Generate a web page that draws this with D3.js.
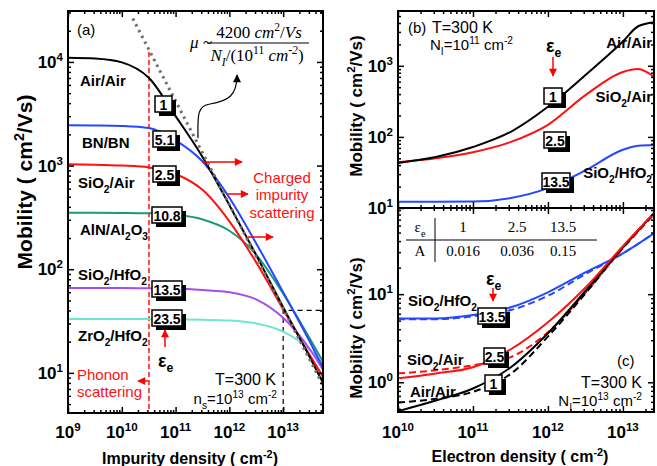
<!DOCTYPE html>
<html>
<head>
<meta charset="utf-8">
<script src="https://cdn.jsdelivr.net/npm/d3@7"></script>
<style>
  body { margin: 0; background: #fff; }
  svg text { font-family: "Liberation Sans", Arial, sans-serif; }
  .serif { font-family: "Liberation Serif", "Times New Roman", serif; }
</style>
</head>
<body>
<svg id="chart" width="657" height="466"></svg>
<script>
// ---- panel (a): mobility vs impurity density, n_s = 1e13 cm^-2
var impurityDensity = [1e9, 3.2e9, 1e10, 3.2e10, 1e11, 3.2e11, 1e12, 3.2e12, 1e13, 3.2e13, 5.5e13];
var muAirAir   = [11000, 10800, 9900, 7000, 3000, 1200, 415, 135, 43, 13.8, 8.0];
var muBNBN     = [2450, 2440, 2410, 2300, 1750, 1090, 490, 175, 60, 19.5, 11.2];
var muSiO2Air  = [1030, 1020, 1000, 960, 830, 580, 290, 115, 41, 14.5, 9.2];
var muAlNAl2O3 = [350, 350, 349, 346, 335, 302, 235, 137, 58, 21, 12.8];
var muSiO2HfO2 = [66, 66, 66, 65.5, 65, 63, 60, 51, 34, 16.6, 10.7];
var muZrO2HfO2 = [33, 33, 33, 33, 32.8, 32.5, 32, 30, 25, 16.5, 12.0];
var coulombDensity = [1.6e10, 5.5e13];
var coulombMu      = [26250, 7.6];
var epsA = ["1", "5.1", "2.5", "10.8", "13.5", "23.5"];

// ---- panel (b): mobility vs electron density, N_I = 1e11 cm^-2
var electronDensityB = [1e10, 3.2e10, 1e11, 3.2e11, 1e12, 3.2e12, 1e13, 1.6e13, 2.6e13];
var muB_AirAir   = [43, 52, 72, 118, 265, 750, 2200, 3600, 4100];
var muB_SiO2Air  = [44, 50, 61, 85, 148, 390, 820, 900, 700];
var muB_SiO2HfO2 = [12.2, 12.2, 12.3, 13.8, 19, 34, 66, 75, 77];

// ---- panel (c): mobility vs electron density, N_I = 1e13 cm^-2 (solid) and fit (dashed)
var electronDensityC = [1e10, 3.2e10, 1e11, 3.2e11, 1e12, 3.2e12, 1e13, 2.6e13];
var muC_AirAir      = [0.47, 0.62, 0.85, 1.48, 3.6, 11, 34, 83];
var muC_AirAirFit   = [0.59, 0.65, 0.78, 1.25, 3.3, 10.3, 34, 83];
var muC_SiO2Air     = [1.11, 1.26, 1.48, 2.37, 4.8, 12, 35, 83];
var muC_SiO2AirFit  = [1.26, 1.37, 1.56, 1.93, 3.7, 10.5, 33, 80];
var muC_SiO2HfO2    = [5.3, 5.3, 5.8, 7.1, 10.5, 17.8, 29, 49];
var muC_SiO2HfO2Fit = [5.2, 5.2, 5.6, 6.6, 9.6, 17, 29, 49];
var tableEps = ["1", "2.5", "13.5"];
var tableA   = ["0.016", "0.036", "0.15"];

var svg = d3.select('#chart');
var defs = svg.append('defs');

['red', 'black'].forEach(function(c) {
  defs.append('marker').attr('id', 'arr-' + c)
    .attr('viewBox', '0 0 10 10').attr('refX', 9).attr('refY', 5)
    .attr('markerWidth', 9).attr('markerHeight', 8).attr('markerUnits', 'userSpaceOnUse')
    .attr('orient', 'auto')
    .append('path').attr('d', 'M0,0 L10,5 L0,10 Z').attr('fill', c);
});

var xA = d3.scaleLog().domain([1e9, 5.5e13]).range([68, 323]);
var yA = d3.scaleLog().domain([4.1, 3.1e4]).range([413, 11]);
var xB = d3.scaleLog().domain([1e10, 2.6e13]).range([398, 654]);
var yB = d3.scaleLog().domain([10, 5900]).range([208, 11]);
var yC = d3.scaleLog().domain([0.46, 95]).range([412, 208]);

function isPow(v) { var l = Math.log10(v); return Math.abs(l - Math.round(l)) < 1e-6; }

function clipFor(id, x, y) {
  defs.append('clipPath').attr('id', id).append('rect')
    .attr('x', x.range()[0]).attr('y', y.range()[1])
    .attr('width', x.range()[1] - x.range()[0]).attr('height', y.range()[0] - y.range()[1]);
  return svg.append('g').attr('clip-path', 'url(#' + id + ')');
}

function frame(x, y) {
  var x0 = x.range()[0], x1 = x.range()[1], yb = y.range()[0], yt = y.range()[1];
  var xt = x.ticks(), ytk = y.ticks();
  var xMaj = xt.filter(isPow), xMin = xt.filter(function(v) { return !isPow(v); });
  var yMaj = ytk.filter(isPow), yMin = ytk.filter(function(v) { return !isPow(v); });
  var g = svg.append('g');
  [[d3.axisBottom, x, 'translate(0,' + yb + ')', xMaj, xMin],
   [d3.axisTop, x, 'translate(0,' + yt + ')', xMaj, xMin],
   [d3.axisLeft, y, 'translate(' + x0 + ',0)', yMaj, yMin],
   [d3.axisRight, y, 'translate(' + x1 + ',0)', yMaj, yMin]].forEach(function(s) {
    g.append('g').attr('transform', s[2]).call(s[0](s[1]).tickValues(s[3]).tickSize(-6).tickFormat(''));
    g.append('g').attr('transform', s[2]).call(s[0](s[1]).tickValues(s[4]).tickSize(-3).tickFormat(''));
  });
  g.selectAll('.domain').remove();
  g.selectAll('.tick line').attr('stroke', '#000').attr('stroke-width', 1.5);
  g.append('rect').attr('x', x0).attr('y', yt).attr('width', x1 - x0).attr('height', yb - yt)
    .attr('fill', 'none').attr('stroke', '#000').attr('stroke-width', 2);
  return { xMaj: xMaj, yMaj: yMaj };
}

// text with _sub and ^sup parts
function rich(x, y, parts, size, opts) {
  opts = opts || {};
  var t = svg.append('text').attr('x', x).attr('y', y)
    .style('font-size', size + 'px')
    .style('font-weight', opts.bold ? 'bold' : 'normal')
    .attr('fill', opts.color || '#000')
    .attr('text-anchor', opts.anchor || 'start');
  if (opts.cls) t.attr('class', opts.cls);
  var shift = 0;
  parts.forEach(function(p) {
    var txt = p, s = 0;
    if (p[0] === '_') { txt = p.slice(1); s = size * 0.3; }
    else if (p[0] === '^') { txt = p.slice(1); s = -size * 0.4; }
    var ts = t.append('tspan').attr('dy', s - shift).text(txt);
    if (s) ts.style('font-size', (size * 0.68) + 'px');
    if (opts.italic && !/^[0-9\/()~ ]+$/.test(txt)) ts.style('font-style', 'italic');
    shift = s;
  });
  return t;
}

function box(x, y, label, w) {
  var g = svg.append('g');
  g.append('rect').attr('x', x + 4).attr('y', y + 4).attr('width', w).attr('height', 16).attr('fill', '#000');
  g.append('rect').attr('x', x).attr('y', y).attr('width', w).attr('height', 16)
    .attr('fill', '#fff').attr('stroke', '#000').attr('stroke-width', 1.5);
  g.append('text').attr('x', x + w / 2).attr('y', y + 13.5).attr('text-anchor', 'middle')
    .style('font-size', '14px').style('font-weight', 'bold').text(label);
}

function arrow(x1, y1, x2, y2, c) {
  svg.append('line').attr('x1', x1).attr('y1', y1).attr('x2', x2).attr('y2', y2)
    .attr('stroke', c || 'red').attr('stroke-width', 1.5)
    .attr('marker-end', 'url(#arr-' + (c || 'red') + ')');
}

function series(g, x, y, xs, ys, color, dash) {
  var line = d3.line().x(function(d) { return x(d[0]); }).y(function(d) { return y(d[1]); })
    .curve(d3.curveMonotoneX);
  g.append('path').datum(d3.zip(xs, ys)).attr('d', line)
    .attr('fill', 'none').attr('stroke', color).attr('stroke-width', 2)
    .attr('stroke-dasharray', dash || null);
}

var BLACK = '#000', BLUE = '#2448ff', RED = '#ff1010', GREEN = '#1b9a72', PURPLE = '#a64cf0', CYAN = '#6fe6cf';

// ================= panel (a)
var gA = clipFor('clipA', xA, yA);
gA.append('line').attr('x1', xA(3.2e10)).attr('x2', xA(3.2e10)).attr('y1', yA(1.25e4)).attr('y2', yA(4.1))
  .attr('stroke', RED).attr('stroke-width', 1.5).attr('stroke-dasharray', '5,3');
gA.append('path').attr('d', 'M' + xA(1e13) + ',' + yA(4.1) + 'V' + yA(40) + 'H' + xA(5.5e13))
  .attr('fill', 'none').attr('stroke', '#000').attr('stroke-width', 1.2).attr('stroke-dasharray', '5,4');
series(gA, xA, yA, impurityDensity, muZrO2HfO2, CYAN);
series(gA, xA, yA, impurityDensity, muSiO2HfO2, PURPLE);
series(gA, xA, yA, impurityDensity, muAlNAl2O3, GREEN);
series(gA, xA, yA, impurityDensity, muSiO2Air, RED);
series(gA, xA, yA, impurityDensity, muBNBN, BLUE);
series(gA, xA, yA, impurityDensity, muAirAir, BLACK);
gA.append('path').datum(d3.zip(coulombDensity, coulombMu))
  .attr('d', d3.line().x(function(d) { return xA(d[0]); }).y(function(d) { return yA(d[1]); }))
  .attr('fill', 'none').attr('stroke', '#707070').attr('stroke-width', 3).attr('stroke-dasharray', '2.5,4');
var fa = frame(xA, yA);

fa.xMaj.forEach(function(v) {
  rich(xA(v), 438, ['10', '^' + Math.round(Math.log10(v))], 17, { bold: true, anchor: 'middle' });
});
fa.yMaj.forEach(function(v) {
  rich(63, yA(v) + 6, ['10', '^' + Math.round(Math.log10(v))], 17, { bold: true, anchor: 'end' });
});
rich(190, 464, ['Impurity density ( cm', '^-2', ')'], 16, { bold: true, anchor: 'middle' });
rich(0, 0, ['Mobility ( cm', '^2', '/Vs)'], 21, { bold: true, anchor: 'middle' })
  .attr('transform', 'translate(32,182) rotate(-90)');

rich(77, 35, ['(a)'], 15);
rich(80, 86, ['Air/Air'], 15, { bold: true });
rich(82, 148, ['BN/BN'], 15, { bold: true });
rich(78, 188, ['SiO', '_2', '/Air'], 15, { bold: true });
rich(80, 235, ['AlN/Al', '_2', 'O', '_3'], 15, { bold: true });
rich(78, 280, ['SiO', '_2', '/HfO', '_2'], 15, { bold: true });
rich(78, 341, ['ZrO', '_2', '/HfO', '_2'], 15, { bold: true });

[[155, 96, 17], [153, 131, 23], [153, 166, 23], [152, 207, 30], [152, 281, 30], [152, 310, 30]]
  .forEach(function(b, i) { box(b[0], b[1], epsA[i], b[2]); });

arrow(165, 347, 165, 330);
rich(158, 367, ['\u03b5', '_e'], 18, { bold: true });

rich(77, 380, ['Phonon'], 15, { color: RED });
rich(77, 397, ['scattering'], 15, { color: RED });
arrow(148, 381, 138, 381);
rich(282, 183, ['Charged'], 15, { color: RED, anchor: 'middle' });
rich(282, 200, ['impurity'], 15, { color: RED, anchor: 'middle' });
rich(282, 218, ['scattering'], 15, { color: RED, anchor: 'middle' });
arrow(202, 162, 242, 162);
arrow(227, 194, 248, 194);
arrow(248, 237, 273, 237);

rich(276, 385, ['T=300 K'], 16, { anchor: 'end' });
rich(277, 404, ['n', '_s', '=10', '^13', ' cm', '^-2'], 15, { anchor: 'end' });

// formula
rich(190, 48, ['\u03bc ~'], 17, { cls: 'serif', italic: true });
rich(259, 38, ['4200', ' cm', '^2', '/', 'Vs'], 17, { cls: 'serif', italic: true, anchor: 'middle' });
svg.append('line').attr('x1', 207).attr('x2', 309).attr('y1', 43).attr('y2', 43).attr('stroke', '#000').attr('stroke-width', 1);
rich(257, 61, ['N', '_I', '/(10', '^11', ' cm', '^-2', ')'], 17, { cls: 'serif', italic: true, anchor: 'middle' });
svg.append('path').attr('d', 'M198,138 C198,118 196,106 210,104 C228,101 237,96 237,75')
  .attr('fill', 'none').attr('stroke', '#000').attr('stroke-width', 1.2)
  .attr('marker-end', 'url(#arr-black)');

// ================= panel (b)
var gB = clipFor('clipB', xB, yB);
series(gB, xB, yB, electronDensityB, muB_SiO2HfO2, BLUE);
series(gB, xB, yB, electronDensityB, muB_SiO2Air, RED);
series(gB, xB, yB, electronDensityB, muB_AirAir, BLACK);
var fb = frame(xB, yB);
fb.yMaj.forEach(function(v) {
  rich(393, yB(v) + 6, ['10', '^' + Math.round(Math.log10(v))], 17, { bold: true, anchor: 'end' });
});
rich(0, 0, ['Mobility ( cm', '^2', '/Vs)'], 17, { bold: true, anchor: 'middle' })
  .attr('transform', 'translate(362,106) rotate(-90)');
rich(408, 33, ['(b)'], 15);
rich(432, 33, ['T=300 K'], 16);
rich(430, 50, ['N', '_I', '=10', '^11', ' cm', '^-2'], 15);
rich(546, 52, ['\u03b5', '_e'], 18, { bold: true });
arrow(553, 57, 553, 76);
rich(652, 48, ['Air/Air'], 15, { bold: true, anchor: 'end' });
rich(652, 102, ['SiO', '_2', '/Air'], 15, { bold: true, anchor: 'end' });
rich(652, 178, ['SiO', '_2', '/HfO', '_2'], 15, { bold: true, anchor: 'end' });
box(544, 88, '1', 18);
box(544, 132, '2.5', 22);
box(542, 173, '13.5', 28);

// ================= panel (c)
var gC = clipFor('clipC', xB, yC);
series(gC, xB, yC, electronDensityC, muC_SiO2HfO2Fit, BLUE, '7,4');
series(gC, xB, yC, electronDensityC, muC_SiO2HfO2, BLUE);
series(gC, xB, yC, electronDensityC, muC_SiO2AirFit, RED, '7,4');
series(gC, xB, yC, electronDensityC, muC_AirAirFit, BLACK, '7,4');
series(gC, xB, yC, electronDensityC, muC_AirAir, BLACK);
series(gC, xB, yC, electronDensityC, muC_SiO2Air, RED);
var fc = frame(xB, yC);
fc.xMaj.forEach(function(v) {
  rich(xB(v), 438, ['10', '^' + Math.round(Math.log10(v))], 17, { bold: true, anchor: 'middle' });
});
fc.yMaj.forEach(function(v) {
  rich(393, yC(v) + 6, ['10', '^' + Math.round(Math.log10(v))], 17, { bold: true, anchor: 'end' });
});
rich(520, 462, ['Electron density ( cm', '^-2', ')'], 16, { bold: true, anchor: 'middle' });
rich(0, 0, ['Mobility ( cm', '^2', '/Vs)'], 17, { bold: true, anchor: 'middle' })
  .attr('transform', 'translate(362,328) rotate(-90)');

// table
svg.append('line').attr('x1', 435).attr('x2', 435).attr('y1', 218).attr('y2', 262).attr('stroke', '#000');
svg.append('line').attr('x1', 406).attr('x2', 597).attr('y1', 240).attr('y2', 240).attr('stroke', '#000');
rich(420, 232, ['\u03b5', '_e'], 15, { cls: 'serif', anchor: 'middle' });
rich(420, 256, ['A'], 15, { cls: 'serif', anchor: 'middle' });
[463, 517, 563].forEach(function(cx, i) {
  rich(cx, 232, [tableEps[i]], 15, { cls: 'serif', anchor: 'middle' });
  rich(cx, 256, [tableA[i]], 15, { cls: 'serif', anchor: 'middle' });
});

rich(486, 285, ['\u03b5', '_e'], 18, { bold: true });
arrow(493, 288, 493, 301);
rich(408, 306, ['SiO', '_2', '/HfO', '_2'], 15, { bold: true });
rich(407, 365, ['SiO', '_2', '/Air'], 15, { bold: true });
rich(410, 397, ['Air/Air'], 15, { bold: true });
box(478, 308, '13.5', 28);
box(484, 348, '2.5', 21);
box(485, 375, '1', 17);
rich(617, 366, ['(c)'], 15);
rich(642, 388, ['T=300 K'], 16, { anchor: 'end' });
rich(642, 406, ['N', '_I', '=10', '^13', ' cm', '^-2'], 15, { anchor: 'end' });
</script>
</body>
</html>
